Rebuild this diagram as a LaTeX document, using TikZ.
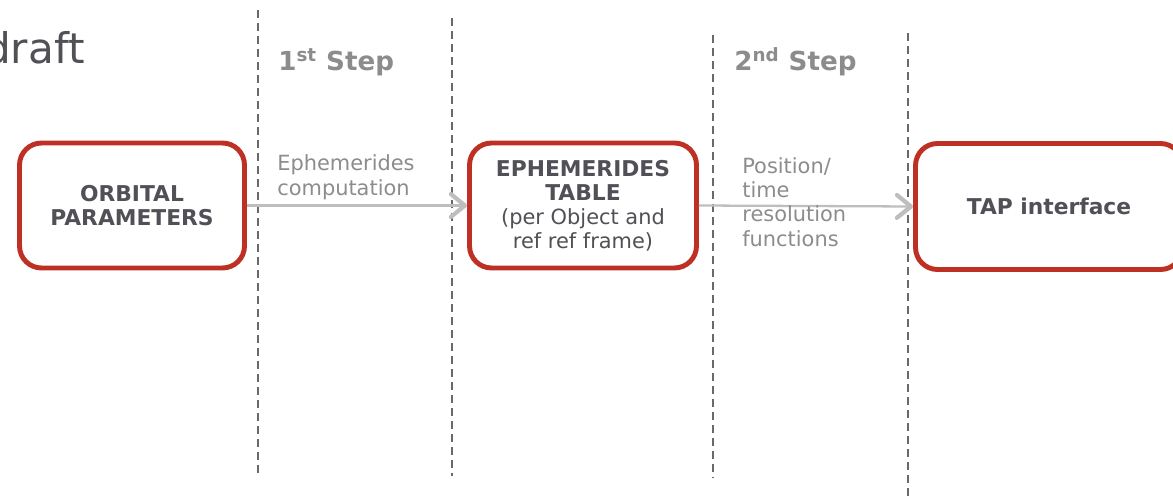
\documentclass[tikz,border=0pt]{standalone}
\usepackage{fontspec}
\setmainfont{DejaVu Sans}
\usetikzlibrary{arrows.meta}
\definecolor{boxred}{RGB}{190,48,36}
\definecolor{boxtext}{RGB}{80,80,86}
\definecolor{lbltext}{RGB}{140,140,140}
\definecolor{steptext}{RGB}{140,140,140}
\definecolor{dashgray}{RGB}{105,105,105}
\definecolor{arrowgray}{RGB}{190,190,190}
\tikzset{
  procbox/.style={draw=boxred, line width=2.8pt, rounded corners=12.5pt, fill=white,
    text=boxtext, align=center, inner sep=0pt,
    font=\fontsize{11.9}{13.6}\selectfont},
  lbl/.style={text=lbltext, align=left, inner sep=0pt, anchor=base west,
    font=\fontsize{11.9}{13.8}\selectfont},
  steplbl/.style={text=steptext, inner sep=0pt, anchor=base west,
    font=\fontsize{14.9}{17}\selectfont\bfseries},
  divider/.style={draw=dashgray, line width=1.2pt, dash pattern=on 4.6pt off 2.8pt},
  flow/.style={draw=arrowgray, line width=1.3pt,
    -{Straight Barb[length=8pt, width=13pt, line width=2.4pt, round]}},
}
\newcommand{\bxt}[1]{{\fontsize{12.4}{13.6}\selectfont\bfseries #1}}
\begin{document}
\begin{tikzpicture}[x=0.02cm, y=-0.02cm]
\useasboundingbox (0,0) rectangle (1173,500);
% dividers
\draw[divider] (258,10) -- (258,478);
\draw[divider] (452,18) -- (452,476);
\draw[divider] (713,35) -- (713,478);
\draw[divider] (908,33) -- (908,500);
% title
\node[anchor=base east, inner sep=0pt, text=boxtext,
  font=\fontsize{24}{28}\selectfont] (title) at (85,64) {draft};
% step labels
\node[steplbl] (s1) at (278,71) {1\textsuperscript{st} Step};
\node[steplbl] (s2) at (734,71) {2\textsuperscript{nd} Step};
% boxes
\node[procbox, minimum width=4.5cm, minimum height=2.5cm] (orb) at (132,205.5)
  {\bxt{ORBITAL}\\\bxt{PARAMETERS}};
\node[procbox, minimum width=4.54cm, minimum height=2.5cm] (eph) at (583,205.5)
  {\bxt{EPHEMERIDES}\\\bxt{TABLE}\\(per Object and\\ref ref frame)};
\node[procbox, minimum width=5.34cm, minimum height=2.52cm] (tap) at (1049,206.5)
  {\bxt{TAP interface}};
% connectors
\draw[flow] (orb.east) -- (eph.west);
\draw[flow] (eph.east) -- (tap.west);
% connector labels (anchored at the baseline of the last line)
\node[lbl] (l1) at (277,195) {Ephemerides\\computation};
\node[lbl] (l2) at (742,246) {Position/\\time\\resolution\\functions};
\end{tikzpicture}
\end{document}
